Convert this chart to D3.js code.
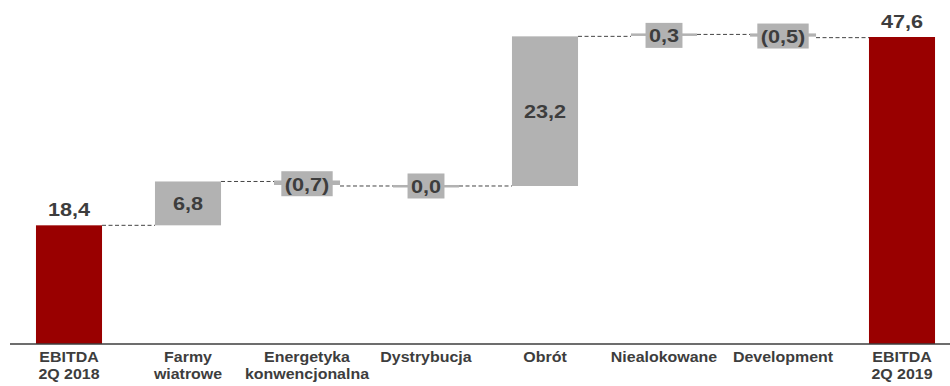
<!DOCTYPE html>
<html>
<head>
<meta charset="utf-8">
<script src="https://cdn.jsdelivr.net/npm/d3@7"></script>
<style>
  html, body { margin: 0; padding: 0; background: #fff; }
  svg { display: block; font-family: "Liberation Sans", Arial, sans-serif; }
</style>
</head>
<body>
<svg id="chart" width="950" height="386"></svg>
<script>
// EBITDA bridge, mln PLN
const categories = [
  ["EBITDA", "2Q 2018"],
  ["Farmy", "wiatrowe"],
  ["Energetyka", "konwencjonalna"],
  ["Dystrybucja"],
  ["Obrót"],
  ["Niealokowane"],
  ["Development"],
  ["EBITDA", "2Q 2019"]
];
const values = [18.4, 6.8, -0.7, 0.0, 23.2, 0.3, -0.5, 47.6];
const kinds = ["total", "delta", "delta", "delta", "delta", "delta", "delta", "total"];

const baseline = 344;
const svg = d3.select("#chart");

const x = d3.scaleBand()
  .domain(d3.range(values.length))
  .range([9.5, 961.5])
  .paddingInner(0.445)
  .paddingOuter(0.2225);

const y = d3.scaleLinear().domain([0, 47.6]).range([baseline, 37]);

const fmt = v => {
  const s = Math.abs(v).toFixed(1).replace(".", ",");
  return v < 0 ? "(" + s + ")" : s;
};

// running start/end of each step
let run = 0;
const bars = values.map((v, i) => {
  let start, end;
  if (kinds[i] === "total") { start = 0; end = v; run = v; }
  else { start = run; end = run + v; run = end; }
  return { i, v, start, end, kind: kinds[i] };
});

const RED = "#990000", GREY = "#b2b2b2", INK = "#3d3d3d";
const SX = 1.14; // horizontal stretch of lettering

// dashed connectors between steps
bars.slice(0, -1).forEach((b, k) => {
  svg.append("line")
    .attr("x1", x(k) + x.bandwidth())
    .attr("x2", x(k + 1))
    .attr("y1", y(b.end)).attr("y2", y(b.end))
    .attr("stroke", "#444").attr("stroke-width", 1)
    .attr("stroke-dasharray", "4,2.5");
});

// bars (tiny steps still get a thin visible sliver)
svg.selectAll("rect.bar").data(bars).enter().append("rect")
  .attr("class", "bar")
  .attr("x", d => x(d.i))
  .attr("width", x.bandwidth())
  .attr("y", d => Math.min(y(d.start), y(d.end)) - (Math.abs(d.v) < 1 ? 1 : 0))
  .attr("height", d => Math.max(Math.abs(y(d.start) - y(d.end)), Math.abs(d.v) < 1 ? 2.5 : 0))
  .attr("fill", d => d.kind === "total" ? RED : GREY);

// value labels
bars.forEach(d => {
  const cx = x(d.i) + x.bandwidth() / 2;
  const cy = d.kind === "total" ? y(d.end) - 16 : (y(d.start) + y(d.end)) / 2;
  const g = svg.append("g").attr("transform", `translate(${cx},${cy}) scale(${SX},1)`);
  const t = g.append("text")
    .attr("text-anchor", "middle")
    .attr("dy", "0.36em")
    .attr("font-size", 19)
    .attr("font-weight", "bold")
    .attr("fill", INK)
    .text(fmt(d.v));
  if (d.kind === "delta" && Math.abs(y(d.start) - y(d.end)) < 24) {
    const bb = t.node().getBBox();
    g.insert("rect", "text")
      .attr("x", bb.x - 3).attr("width", bb.width + 6)
      .attr("y", -12.5).attr("height", 25)
      .attr("fill", GREY);
  }
});

// axis line
svg.append("line")
  .attr("x1", 10).attr("x2", 950)
  .attr("y1", baseline).attr("y2", baseline)
  .attr("stroke", INK).attr("stroke-width", 1.5);

// category labels
categories.forEach((lines, i) => {
  const cx = x(i) + x.bandwidth() / 2;
  const g = svg.append("g").attr("transform", `translate(${cx},0) scale(${SX},1)`);
  lines.forEach((s, j) => {
    g.append("text")
      .attr("x", 0)
      .attr("y", 362 + j * 17)
      .attr("text-anchor", "middle")
      .attr("font-size", 14)
      .attr("font-weight", "bold")
      .attr("fill", INK)
      .text(s);
  });
});
</script>
</body>
</html>
